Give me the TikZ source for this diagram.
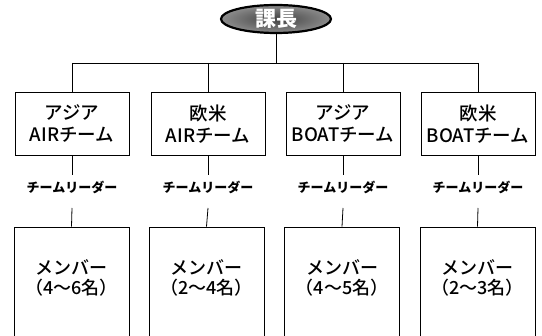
\documentclass[tikz,border=0pt]{standalone}
\usepackage{fontspec}
\setmainfont{Noto Sans CJK JP Medium}[BoldFont={Noto Sans CJK JP Bold}]
\newfontfamily\heavyjp{Noto Sans CJK JP Black}
\usetikzlibrary{shapes.geometric}
\begin{document}
\begin{tikzpicture}[x=1pt,y=-1pt,
  line width=0.8pt,
  teambox/.style={draw, minimum width=114pt, minimum height=63pt, align=center, font=\fontsize{18.5}{22}\selectfont, inner sep=0pt},
  leader/.style={font=\heavyjp\fontsize{13}{14}\selectfont, inner sep=0pt},
  memberbox/.style={draw, minimum width=115pt, minimum height=130pt, inner sep=0pt},
  membertext/.style={align=center, font=\fontsize{18}{20.5}\selectfont, inner sep=0pt},
  boss/.style={ellipse, draw=black, line width=2.2pt, inner color=black!75, outer color=black!45, minimum width=110pt, minimum height=28pt, inner sep=0pt, text=white, font=\heavyjp\fontsize{21}{22}\selectfont}
]
\clip (0,0) rectangle (542,336);
\fill[white] (0,0) rectangle (542,336);

\node[boss] (boss) at (276,19) {課長};

\coordinate (bus) at (276,63);
\coordinate (busL) at (72,63);
\coordinate (busR) at (478,63);

\node[teambox] (t1) at (72,124) {アジア\\AIRチーム};
\node[teambox] (t2) at (208,124) {欧米\\AIRチーム};
\node[teambox] (t3) at (343,124) {アジア\\BOATチーム};
\node[teambox] (t4) at (478,124) {欧米\\BOATチーム};

\foreach \i/\x in {1/72,2/208,3/343,4/478}{
  \node[leader] (l\i) at (\x,187) {チームリーダー};
  \coordinate (la\i) at (\x,175);
  \coordinate (lb\i) at (\x,208);
}

\node[memberbox] (m1) at (71.5,292) {};
\node[memberbox] (m2) at (206.5,292) {};
\node[memberbox] (m3) at (342,292) {};
\node[memberbox] (m4) at (477.5,292) {};

\node[membertext] at (71.5,278) {メンバー\\（4〜6名）};
\node[membertext] at (206.5,278) {メンバー\\（2〜4名）};
\node[membertext] at (342,278) {メンバー\\（4〜5名）};
\node[membertext] at (477.5,278) {メンバー\\（2〜3名）};

\draw (boss.south) -- (bus);
\draw (busL) -- (busR);
\foreach \i/\x in {1/72,2/208,3/343,4/478}{
  \draw (\x,63) -- (t\i.north);
  \draw (t\i.south) -- (la\i);
  \draw (lb\i) -- (m\i.north);
}
\end{tikzpicture}
\end{document}
